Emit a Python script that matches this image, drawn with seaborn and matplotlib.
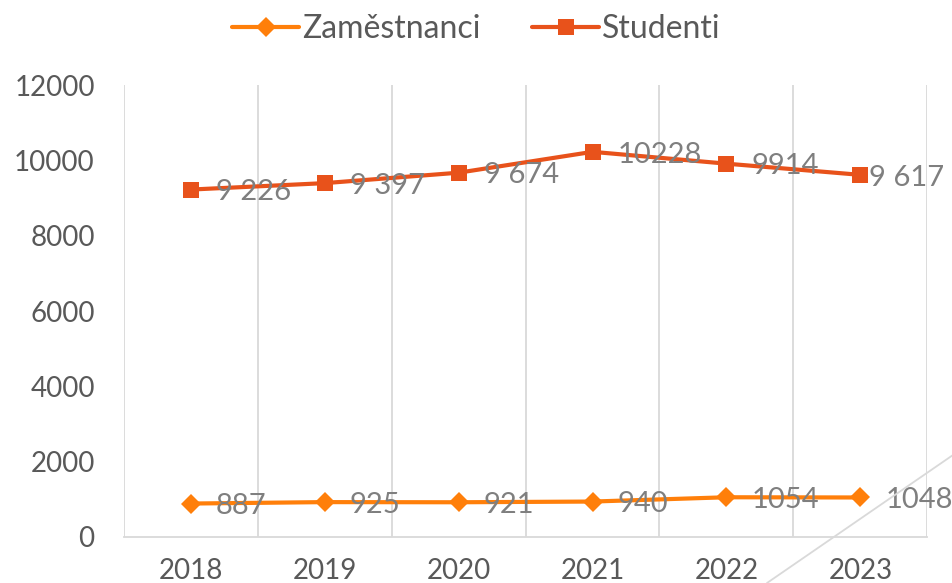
import numpy as np
import pandas as pd
import seaborn as sns
import matplotlib.pyplot as plt
from matplotlib.lines import Line2D

years = ["2018", "2019", "2020", "2021", "2022", "2023"]
zamestnanci = [887, 925, 921, 940, 1054, 1048]
studenti = [9226, 9397, 9674, 10228, 9914, 9617]
zam_labels = ["887", "925", "921", "940", "1054", "1048"]
stud_labels = ["9 226", "9 397", "9 674", "10228", "9914", "9 617"]

sns.set_style("white")
plt.rcParams['font.family'] = ['Lato', 'DejaVu Sans']

df = pd.DataFrame({
    "rok": list(range(len(years))) * 2,
    "hodnota": zamestnanci + studenti,
    "serie": ["Zaměstnanci"] * len(years) + ["Studenti"] * len(years),
})

fig = plt.figure(figsize=(9.53, 5.83), dpi=100)
ax = fig.add_axes([0.130, 0.079, 0.843, 0.775])

colors = {"Zaměstnanci": "#FF7F0A", "Studenti": "#E8521B"}
sns.lineplot(data=df, x="rok", y="hodnota", hue="serie", style="serie",
             markers={"Zaměstnanci": "D", "Studenti": "s"}, dashes=False,
             palette=colors, linewidth=3, markersize=12, markeredgewidth=0,
             ax=ax, legend=False)

for line in ax.lines:
    if line.get_marker() == "D":
        line.set_markersize(10)

label_color = "#7F7F7F"
for i in range(len(years)):
    ax.annotate(zam_labels[i], (i, zamestnanci[i]), xytext=(18, -2),
                textcoords="offset points", va="center", ha="left",
                fontsize=21, color=label_color)
    # last label sits tight to the marker so it fits in the frame
    dx = 6 if i == len(years) - 1 else 18
    ax.annotate(stud_labels[i], (i, studenti[i]), xytext=(dx, -2),
                textcoords="offset points", va="center", ha="left",
                fontsize=21, color=label_color)

ax.set_xlim(-0.5, len(years) - 0.5)
ax.set_ylim(0, 12000)
ax.set_xticks(range(len(years)))
ax.set_xticklabels(years)
ax.set_yticks(range(0, 12001, 2000))
ax.set_xlabel("")
ax.set_ylabel("")
ax.tick_params(axis="both", length=0, labelsize=20, colors="#595959")
ax.tick_params(axis="y", pad=21)
ax.tick_params(axis="x", pad=15)

for b in np.arange(-0.5, len(years), 1.0):
    ax.axvline(b, color="#D9D9D9", linewidth=1.3, zorder=0)
for s in ["top", "right", "left"]:
    ax.spines[s].set_visible(False)
ax.spines["bottom"].set_color("#D9D9D9")
ax.spines["bottom"].set_linewidth(1.3)

handles = [
    Line2D([], [], color=colors["Zaměstnanci"], marker="D", markersize=10,
           markeredgewidth=0, linewidth=3),
    Line2D([], [], color=colors["Studenti"], marker="s", markersize=12,
           markeredgewidth=0, linewidth=3),
]
fig.legend(handles, ["Zaměstnanci", "Studenti"], loc="upper center",
           bbox_to_anchor=(0.5, 1.025), ncol=2, frameon=False, fontsize=23,
           labelcolor="#595959", handlelength=2.1, handletextpad=0.1,
           columnspacing=1.6)

# thin diagonal decoration in the corner
fig.add_artist(Line2D([767 / 953, 1.0], [0.0, 128 / 583], color="#D9D9D9",
                      linewidth=1.3, transform=fig.transFigure))

fig.savefig("out.png", dpi=100)
